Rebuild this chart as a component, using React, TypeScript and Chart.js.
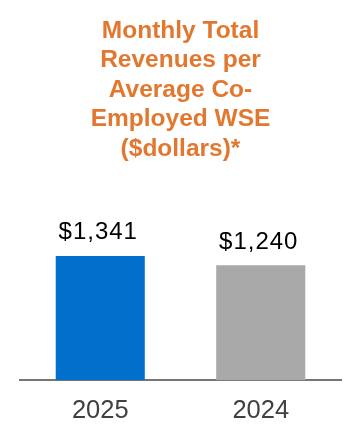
import React, { useEffect, useRef } from "react";
import { Chart, registerables } from "chart.js";

Chart.register(...registerables);

const categories = ["2025", "2024"];
const values = [1341, 1240];
const valueLabels = ["$1,341", "$1,240"];
const barColors = ["#0070CC", "#A9A9A9"];
const titleLines = ["Monthly Total", "Revenues per", "Average Co-", "Employed WSE", "($dollars)*"];

const FONT = "'Liberation Sans', Arial, sans-serif";

const valueLabelPlugin = {
  id: "valueLabels",
  afterDatasetsDraw(chart: any) {
    const ctx = chart.ctx;
    const meta = chart.getDatasetMeta(0);
    ctx.save();
    ctx.font = `24px ${FONT}`;
    ctx.fillStyle = "#000000";
    ctx.textAlign = "center";
    ctx.textBaseline = "alphabetic";
    try { (ctx as any).letterSpacing = "1px"; } catch (e) {}
    meta.data.forEach((bar: any, i: number) => {
      ctx.fillText(valueLabels[i], bar.x - 2, bar.y - 16.5);
    });
    ctx.restore();
  },
};

export default function App() {
  const ref = useRef<HTMLCanvasElement | null>(null);
  useEffect(() => {
    if (!ref.current) return;
    const chart = new Chart(ref.current, {
      type: "bar",
      data: {
        labels: categories,
        datasets: [
          {
            data: values,
            backgroundColor: barColors,
            borderWidth: 0,
            categoryPercentage: 1,
            barPercentage: 0.555,
          },
        ],
      },
      options: {
        animation: false,
        responsive: true,
        maintainAspectRatio: false,
        layout: { padding: { left: 12, right: 11, top: 0, bottom: -3.6 } },
        plugins: {
          legend: { display: false },
          tooltip: { enabled: false },
          title: {
            display: true,
            text: titleLines,
            color: "#E2782F",
            font: { family: FONT, size: 24.5, weight: "bold", lineHeight: 29.5 / 24.5 },
            padding: { top: 8, bottom: 68.5 },
          },
        },
        scales: {
          x: {
            grid: { display: false, drawTicks: false },
            border: { display: true, color: "#767676", width: 2 },
            ticks: {
              color: "#404040",
              font: { family: FONT, size: 25.5, lineHeight: 1.2 },
              padding: 15.4,
            },
          },
          y: {
            display: false,
            min: 0,
            max: 1600,
          },
        },
      },
      plugins: [valueLabelPlugin],
    });
    return () => chart.destroy();
  }, []);
  return (
    <div style={{ position: "relative", width: "100%", height: 430 }}>
      <canvas ref={ref} />
    </div>
  );
}
